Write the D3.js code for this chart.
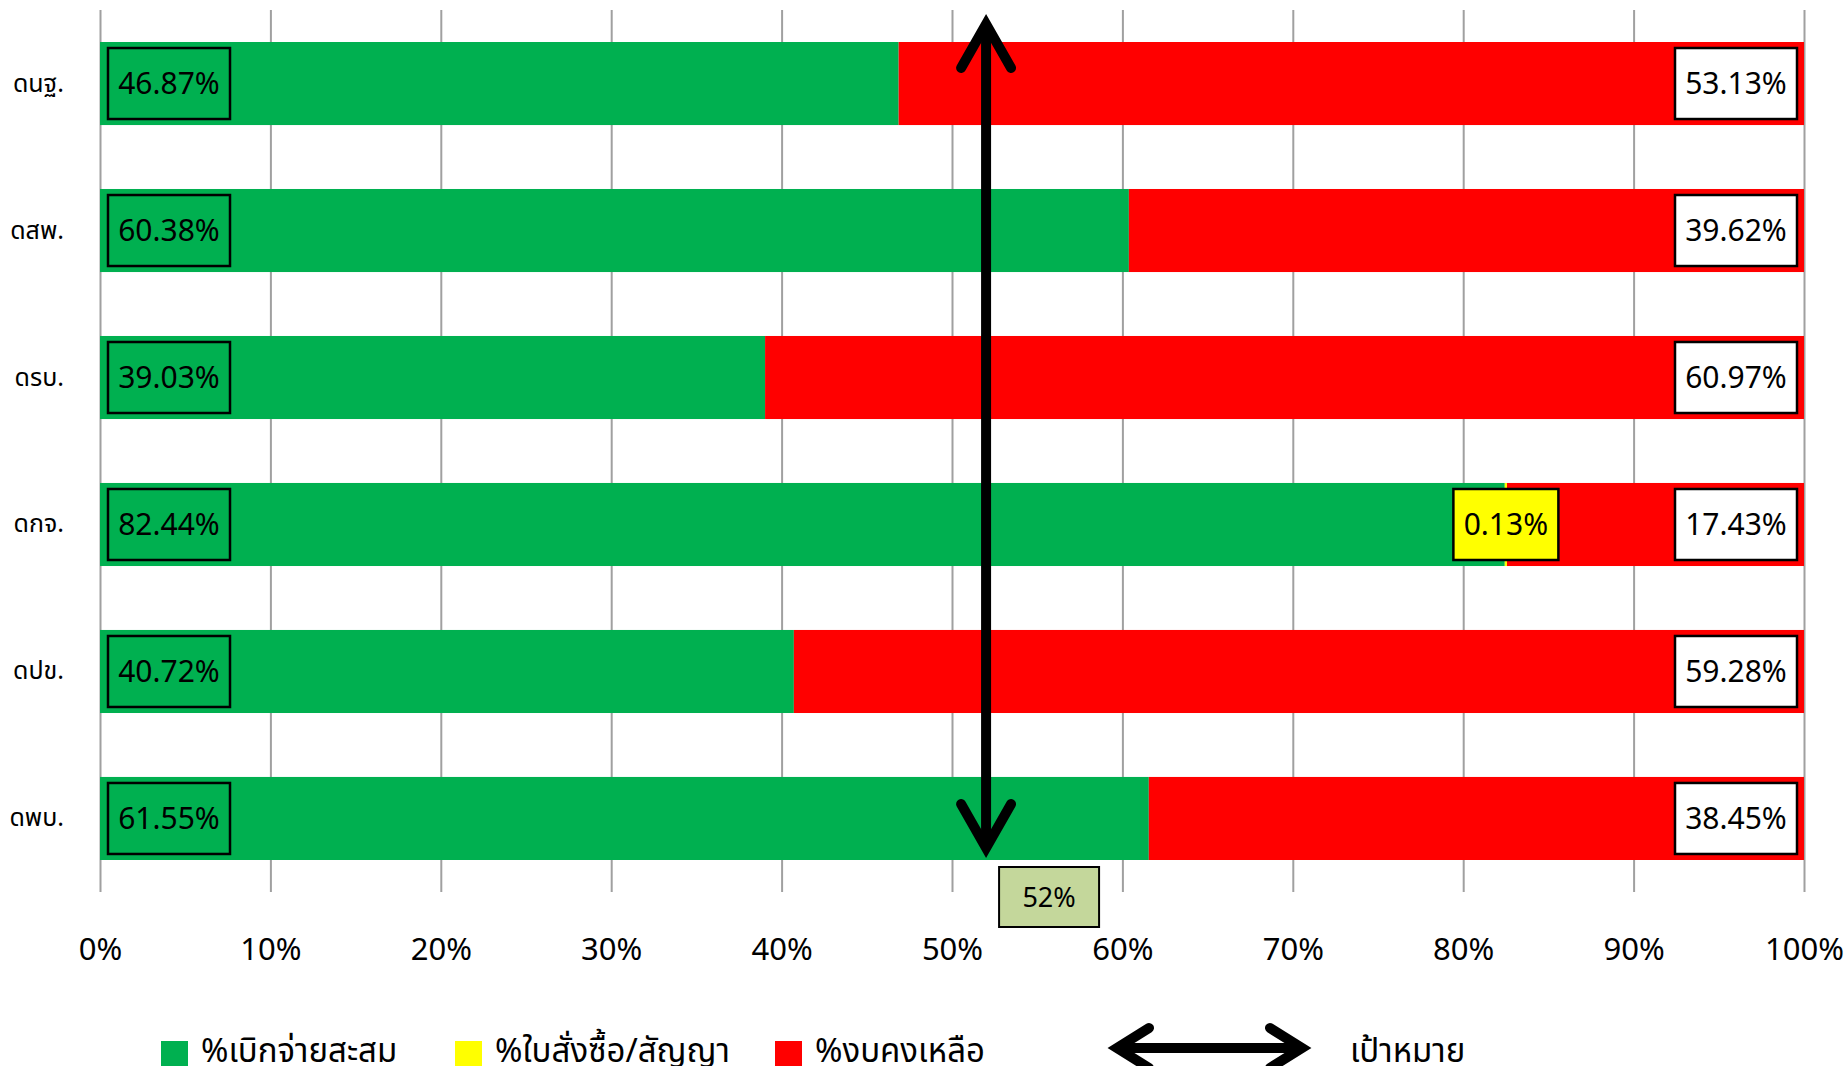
<!DOCTYPE html>
<html lang="th">
<head>
<meta charset="utf-8">
<title>Budget disbursement</title>
<script src="https://d3js.org/d3.v7.min.js"></script>
<style>
  body { margin: 0; background: #fff; }
  svg text { font-family: "Noto Sans", "Noto Sans Thai", sans-serif; fill: #000; }
</style>
</head>
<body>
<script>
    // chart values
    var categories = ["ดนฐ.", "ดสพ.", "ดรบ.", "ดกจ.", "ดปข.", "ดพบ."];
    var disbursed = [46.87, 60.38, 39.03, 82.44, 40.72, 61.55];
    var ordered = [0, 0, 0, 0.13, 0, 0];
    var remaining = [53.13, 39.62, 60.97, 17.43, 59.28, 38.45];
    var target = 52;
    var ticks = [0, 10, 20, 30, 40, 50, 60, 70, 80, 90, 100];
    var seriesNames = ["%เบิกจ่ายสะสม", "%ใบสั่งซื้อ/สัญญา", "%งบคงเหลือ"];
    var targetName = "เป้าหมาย";

    var colors = ["#00b050", "#ffff00", "#ff0000"];

    var width = 1847, height = 1066;
    // plot area (note: "top" is reserved on window, so use other names)
    var plotLeft = 100, plotRight = 1804, plotTop = 10, plotBottom = 892;

    var svg = d3.select("body").append("svg")
        .attr("width", width)
        .attr("height", height);

    var x = d3.scaleLinear().domain([0, 100]).range([plotLeft, plotRight]);
    var y = d3.scaleBand().domain(categories).range([plotTop, plotBottom])
        .paddingInner(0.435).paddingOuter(0.2177);

    // gridlines + tick labels
    var xAxis = svg.append("g")
        .attr("transform", "translate(0," + plotBottom + ")")
        .call(d3.axisBottom(x).tickValues(ticks).tickSize(-(plotBottom - plotTop)).tickSizeOuter(0)
            .tickFormat(function (d) { return d + "%"; }));
    xAxis.select(".domain").remove();
    xAxis.selectAll("line").attr("stroke", "#a0a0a0").attr("stroke-width", 2);
    xAxis.selectAll("text").attr("font-size", 31).attr("fill", "#000")
        .attr("y", 46).attr("dy", "0.71em");

    // category labels
    var yAxis = svg.append("g")
        .attr("transform", "translate(" + plotLeft + ",0)")
        .call(d3.axisLeft(y).tickSize(0).tickPadding(36));
    yAxis.select(".domain").remove();
    yAxis.selectAll("text").attr("font-size", 25).attr("fill", "#111");

    // stacked rows
    var rows = categories.map(function (c, i) {
        return { cat: c, vals: [disbursed[i], ordered[i], remaining[i]] };
    });

    var row = svg.selectAll(".row").data(rows).enter().append("g").attr("class", "row");

    row.each(function (d) {
        var g = d3.select(this);
        var start = 0;
        d.vals.forEach(function (v, k) {
            if (v > 0) {
                g.append("rect")
                    .attr("x", x(start))
                    .attr("y", y(d.cat))
                    .attr("width", x(start + v) - x(start))
                    .attr("height", y.bandwidth())
                    .attr("fill", colors[k]);
            }
            d["s" + k] = start;
            start += v;
        });
    });

    // data labels
    var boxW = 122, boxH = 71;
    function labelBox(g, cx, cy, w, fill, txt) {
        g.append("rect")
            .attr("x", cx - w / 2).attr("y", cy - boxH / 2)
            .attr("width", w).attr("height", boxH)
            .attr("fill", fill).attr("stroke", "#000").attr("stroke-width", 2.5);
        g.append("text")
            .attr("x", cx).attr("y", cy)
            .attr("dy", "0.36em")
            .attr("text-anchor", "middle")
            .attr("font-size", 30)
            .text(txt);
    }

    row.each(function (d) {
        var g = d3.select(this);
        var cy = y(d.cat) + y.bandwidth() / 2;
        labelBox(g, x(0) + 8 + boxW / 2, cy, boxW, colors[0], d.vals[0].toFixed(2) + "%");
        if (d.vals[1] > 0) {
            labelBox(g, x(d.s1 + d.vals[1] / 2), cy, 105, colors[1], d.vals[1].toFixed(2) + "%");
        }
        labelBox(g, x(100) - 7 - boxW / 2, cy, boxW, "#fff", d.vals[2].toFixed(2) + "%");
    });

    // target arrow
    function chevron(g, tx, ty, dx, dy) {
        g.append("path")
            .attr("d", "M" + (tx - dx) + "," + (ty - dy) + "L" + tx + "," + ty + "L" + (tx + dx) + "," + (ty - dy))
            .attr("fill", "none").attr("stroke", "#000").attr("stroke-width", 10)
            .attr("stroke-linecap", "round").attr("stroke-linejoin", "miter");
    }
    function hChevron(g, tx, ty, dx, dy) {
        g.append("path")
            .attr("d", "M" + (tx - dx) + "," + (ty - dy) + "L" + tx + "," + ty + "L" + (tx - dx) + "," + (ty + dy))
            .attr("fill", "none").attr("stroke", "#000").attr("stroke-width", 10)
            .attr("stroke-linecap", "round").attr("stroke-linejoin", "miter");
    }

    var tg = svg.append("g");
    var tx = x(target);
    var yTop = 24, yBot = 848;
    tg.append("line")
        .attr("x1", tx).attr("x2", tx).attr("y1", yTop + 4).attr("y2", yBot - 4)
        .attr("stroke", "#000").attr("stroke-width", 10);
    chevron(tg, tx, yBot, 25, 44);
    chevron(tg, tx, yTop, 25, -44);

    tg.append("rect")
        .attr("x", tx + 13).attr("y", 867)
        .attr("width", 100).attr("height", 60)
        .attr("fill", "#c4d79b").attr("stroke", "#000").attr("stroke-width", 2);
    tg.append("text")
        .attr("x", tx + 63).attr("y", 897).attr("dy", "0.36em")
        .attr("text-anchor", "middle").attr("font-size", 27)
        .text(target + "%");

    // legend
    var lg = svg.append("g");
    var legX = [161, 455, 775];
    seriesNames.forEach(function (n, k) {
        lg.append("rect")
            .attr("x", legX[k]).attr("y", 1041)
            .attr("width", 27).attr("height", 27)
            .attr("fill", colors[k]);
        lg.append("text")
            .attr("x", legX[k] + 40).attr("y", 1062)
            .attr("font-size", 33)
            .text(n);
    });
    var ly = 1048;
    lg.append("line")
        .attr("x1", 1120).attr("x2", 1300).attr("y1", ly).attr("y2", ly)
        .attr("stroke", "#000").attr("stroke-width", 10);
    hChevron(lg, 1302, ly, 32, 20);
    hChevron(lg, 1117, ly, -32, 20);
    lg.append("text")
        .attr("x", 1350).attr("y", 1062)
        .attr("font-size", 33)
        .text(targetName);
</script>
</body>
</html>
